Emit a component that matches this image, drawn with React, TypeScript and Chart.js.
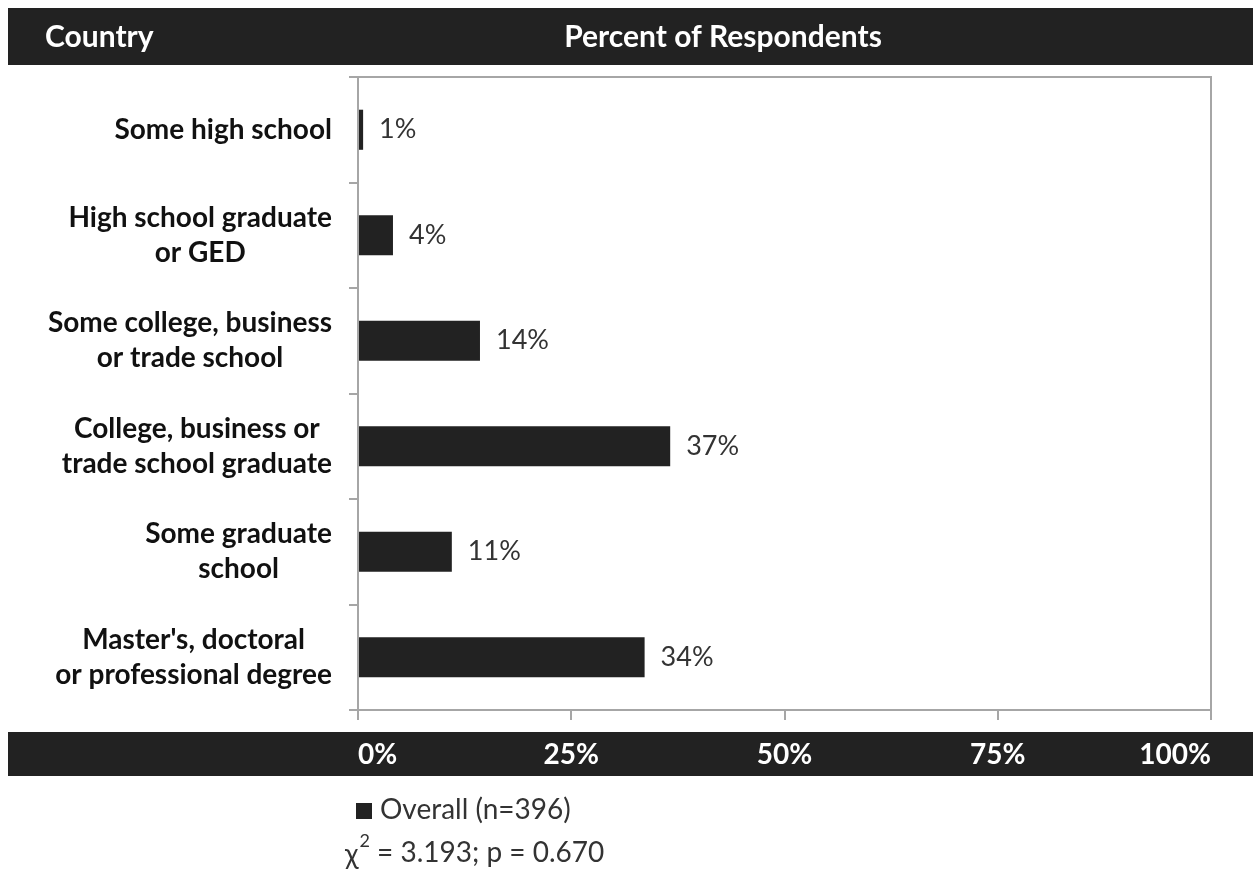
import { useEffect, useRef } from 'react';
import { Chart, registerables } from 'chart.js';
Chart.register(...registerables);

const categories: string[][] = [
  ['Some high school'],
  ['High school graduate', 'or GED'],
  ['Some college, business', 'or trade school'],
  ['College, business or', 'trade school graduate'],
  ['Some graduate', 'school'],
  ["Master's, doctoral", 'or professional degree'],
];
const overallValues = [0.6, 4.1, 14.3, 36.6, 11.0, 33.6];
const valueLabels = ['1%', '4%', '14%', '37%', '11%', '34%'];
const xTickLabels = ['0%', '25%', '50%', '75%', '100%'];
const headerLeft = 'Country';
const headerRight = 'Percent of Respondents';
const legendLabel = 'Overall (n=396)';
const statSymbol = 'χ';
const statSup = '2';
const statText = ' = 3.193; p = 0.670';

const FONT = 'Lato, "Open Sans", sans-serif';
const DARK = '#222222';
const AXIS = '#a6a6a6';

const decor = {
  id: 'decor',
  beforeDraw(chart: any) {
    const { ctx, width, height } = chart;
    ctx.save();
    ctx.fillStyle = '#ffffff';
    ctx.fillRect(0, 0, width, height);
    ctx.fillStyle = DARK;
    ctx.fillRect(8, 8, width - 8, 57);
    ctx.fillRect(8, 732, width - 8, 44);
    ctx.fillStyle = '#ffffff';
    ctx.font = `bold 30px ${FONT}`;
    ctx.textBaseline = 'middle';
    ctx.textAlign = 'left';
    ctx.fillText(headerLeft, 45, 37);
    ctx.textAlign = 'center';
    ctx.fillText(headerRight, 723, 37);
    ctx.restore();
  },
  afterDraw(chart: any) {
    const { ctx, chartArea } = chart;
    ctx.save();
    ctx.strokeStyle = AXIS;
    ctx.lineWidth = 2;
    ctx.beginPath();
    ctx.moveTo(chartArea.left, chartArea.top);
    ctx.lineTo(chartArea.right, chartArea.top);
    ctx.lineTo(chartArea.right, chartArea.bottom);
    ctx.stroke();

    const yScale = chart.scales.y;
    ctx.font = `bold 28px ${FONT}`;
    ctx.fillStyle = '#111111';
    ctx.textBaseline = 'middle';
    ctx.textAlign = 'center';
    categories.forEach((lines, i) => {
      const y = yScale.getPixelForTick(i);
      const w = Math.max(...lines.map((l) => ctx.measureText(l).width));
      const cx = chartArea.left - 26 - w / 2;
      lines.forEach((l, j) => {
        ctx.fillText(l, cx, y + (j - (lines.length - 1) / 2) * 35);
      });
    });

    const meta = chart.getDatasetMeta(0);
    ctx.font = `27px ${FONT}`;
    ctx.fillStyle = '#333333';
    ctx.textAlign = 'left';
    meta.data.forEach((bar: any, i: number) => {
      ctx.fillText(valueLabels[i], bar.x + 16, bar.y);
    });

    ctx.fillStyle = DARK;
    ctx.fillRect(356, 803, 16, 16);
    ctx.fillStyle = '#333333';
    ctx.font = `28px ${FONT}`;
    ctx.fillText(legendLabel, 380, 810);

    let x = 345;
    ctx.fillText(statSymbol, x, 855);
    x += ctx.measureText(statSymbol).width + 1;
    ctx.font = `18px ${FONT}`;
    ctx.fillText(statSup, x, 841);
    x += ctx.measureText(statSup).width;
    ctx.font = `28px ${FONT}`;
    ctx.fillText(statText, x, 853);
    ctx.restore();
  },
};

export default function App() {
  const ref = useRef<HTMLCanvasElement>(null);
  useEffect(() => {
    document.body.style.margin = '0';
    const canvas = ref.current!;
    const chart = new Chart(canvas, {
      type: 'bar',
      data: {
        labels: categories.map((c) => c.join(' ')),
        datasets: [
          {
            label: legendLabel,
            data: overallValues,
            backgroundColor: DARK,
            borderWidth: 0,
            barPercentage: 0.38,
            categoryPercentage: 1,
          },
        ],
      },
      options: {
        indexAxis: 'y',
        responsive: false,
        animation: false,
        layout: { padding: { top: 77, right: 42, left: 0, bottom: 0 } },
        plugins: { legend: { display: false }, tooltip: { enabled: false } },
        scales: {
          x: {
            min: 0,
            max: 100,
            ticks: {
              stepSize: 25,
              align: 'inner',
              padding: 18,
              color: '#ffffff',
              font: { family: FONT, size: 28, weight: 'bold' },
              callback: (_v: any, i: number) => xTickLabels[i],
            },
            grid: { drawOnChartArea: false, tickLength: 10, color: AXIS, lineWidth: 2 },
            border: { display: true, color: AXIS, width: 2 },
            afterFit: (s: any) => {
              s.height = 160;
            },
          },
          y: {
            ticks: { color: 'rgba(0,0,0,0)', font: { family: FONT, size: 25 } },
            grid: { drawOnChartArea: false, tickLength: 9, color: AXIS, lineWidth: 2, offset: true },
            border: { display: true, color: AXIS, width: 2 },
            afterFit: (s: any) => {
              s.width = 358;
            },
          },
        },
      },
      plugins: [decor],
    } as any);
    return () => chart.destroy();
  }, []);
  return <canvas ref={ref} width={1253} height={870} style={{ display: 'block' }} />;
}
